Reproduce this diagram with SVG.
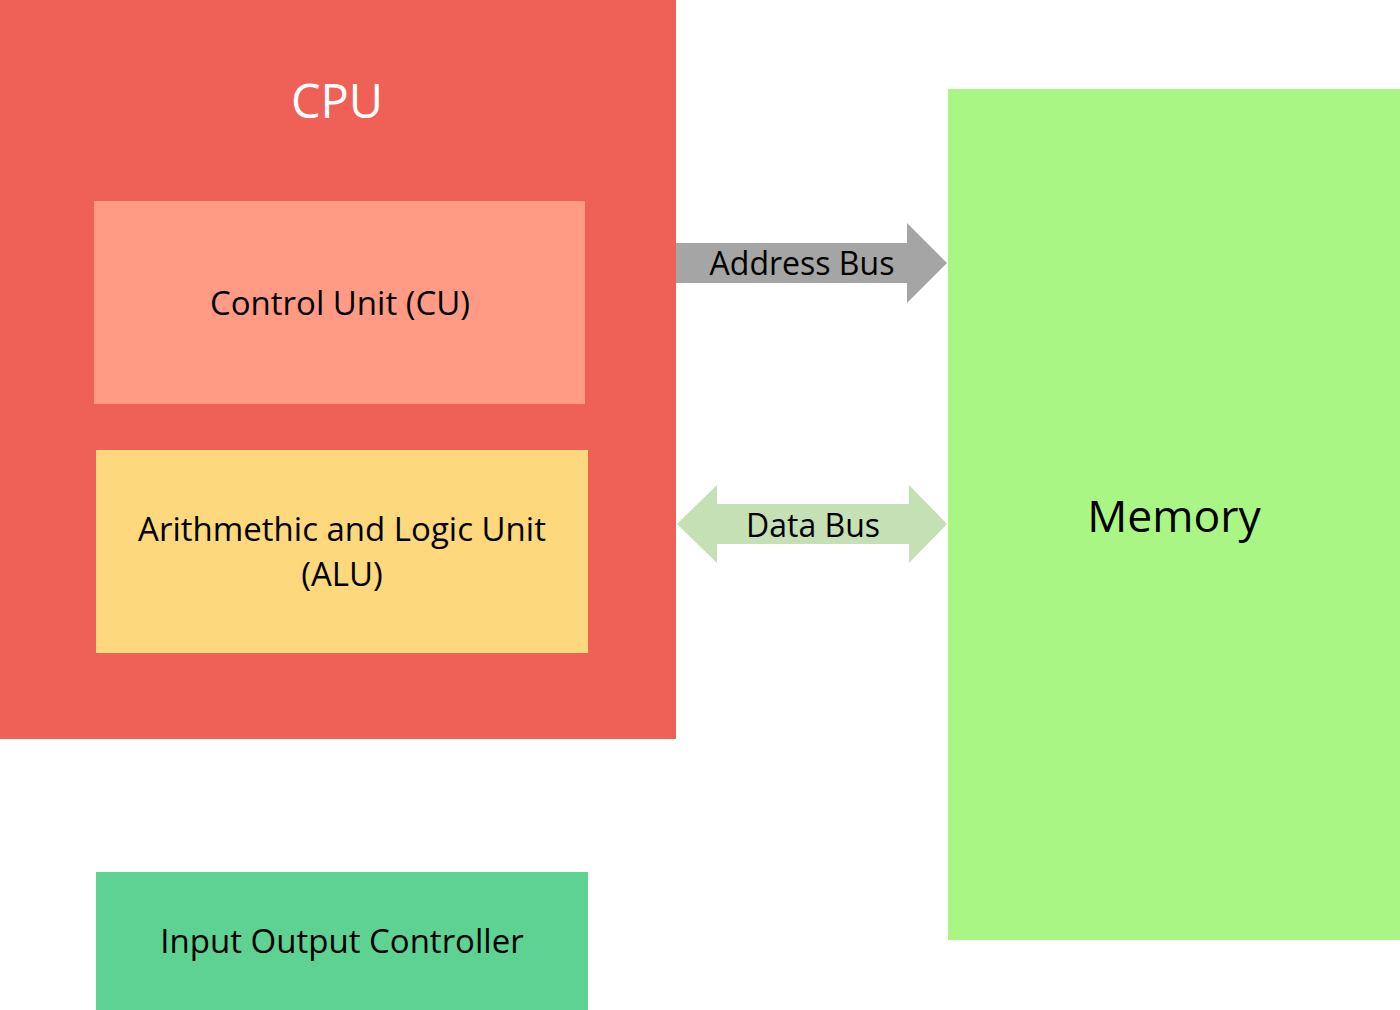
<svg xmlns="http://www.w3.org/2000/svg" width="1400" height="1010" viewBox="0 0 1400 1010">
<style>
text{font-family:"Open Sans","Noto Sans","DejaVu Sans",sans-serif;text-anchor:middle;fill:#000}
.t32{font-size:33px}
.bus{font-size:32px}
</style>
<rect width="1400" height="1010" fill="#fff"/>
<g id="cpu">
<rect x="0" y="0" width="676" height="739" fill="#EF6056"/>
<text x="337" y="118" style="font-size:47px;fill:#fff">CPU</text>
</g>
<g id="cu">
<rect x="94" y="201" width="491" height="203" fill="#FF9A84"/>
<text class="t32" x="340" y="315">Control Unit (CU)</text>
</g>
<g id="alu">
<rect x="96" y="450" width="492" height="203" fill="#FDD87C"/>
<text class="t32" x="342" y="541">Arithmethic and Logic Unit</text>
<text class="t32" x="342" y="586">(ALU)</text>
</g>
<g id="io">
<rect x="96" y="872" width="492" height="138" fill="#5ED293"/>
<text class="t32" x="342" y="953">Input Output Controller</text>
</g>
<g id="memory">
<rect x="948" y="89" width="452" height="851" fill="#AAF684"/>
<text x="1174" y="532" style="font-size:44.5px">Memory</text>
</g>
<g id="connectors">
<g id="address-bus">
<polygon points="676,243 907,243 907,223 947,263 907,303 907,283 676,283" fill="#A5A5A5"/>
<text class="bus" x="802" y="275">Address Bus</text>
</g>
<g id="data-bus">
<polygon points="677,524 717,485 717,504 909,504 909,485 947,524 909,563 909,544 717,544 717,563" fill="#C5E0B4"/>
<text class="bus" x="813" y="537">Data Bus</text>
</g>
</g>
</svg>
